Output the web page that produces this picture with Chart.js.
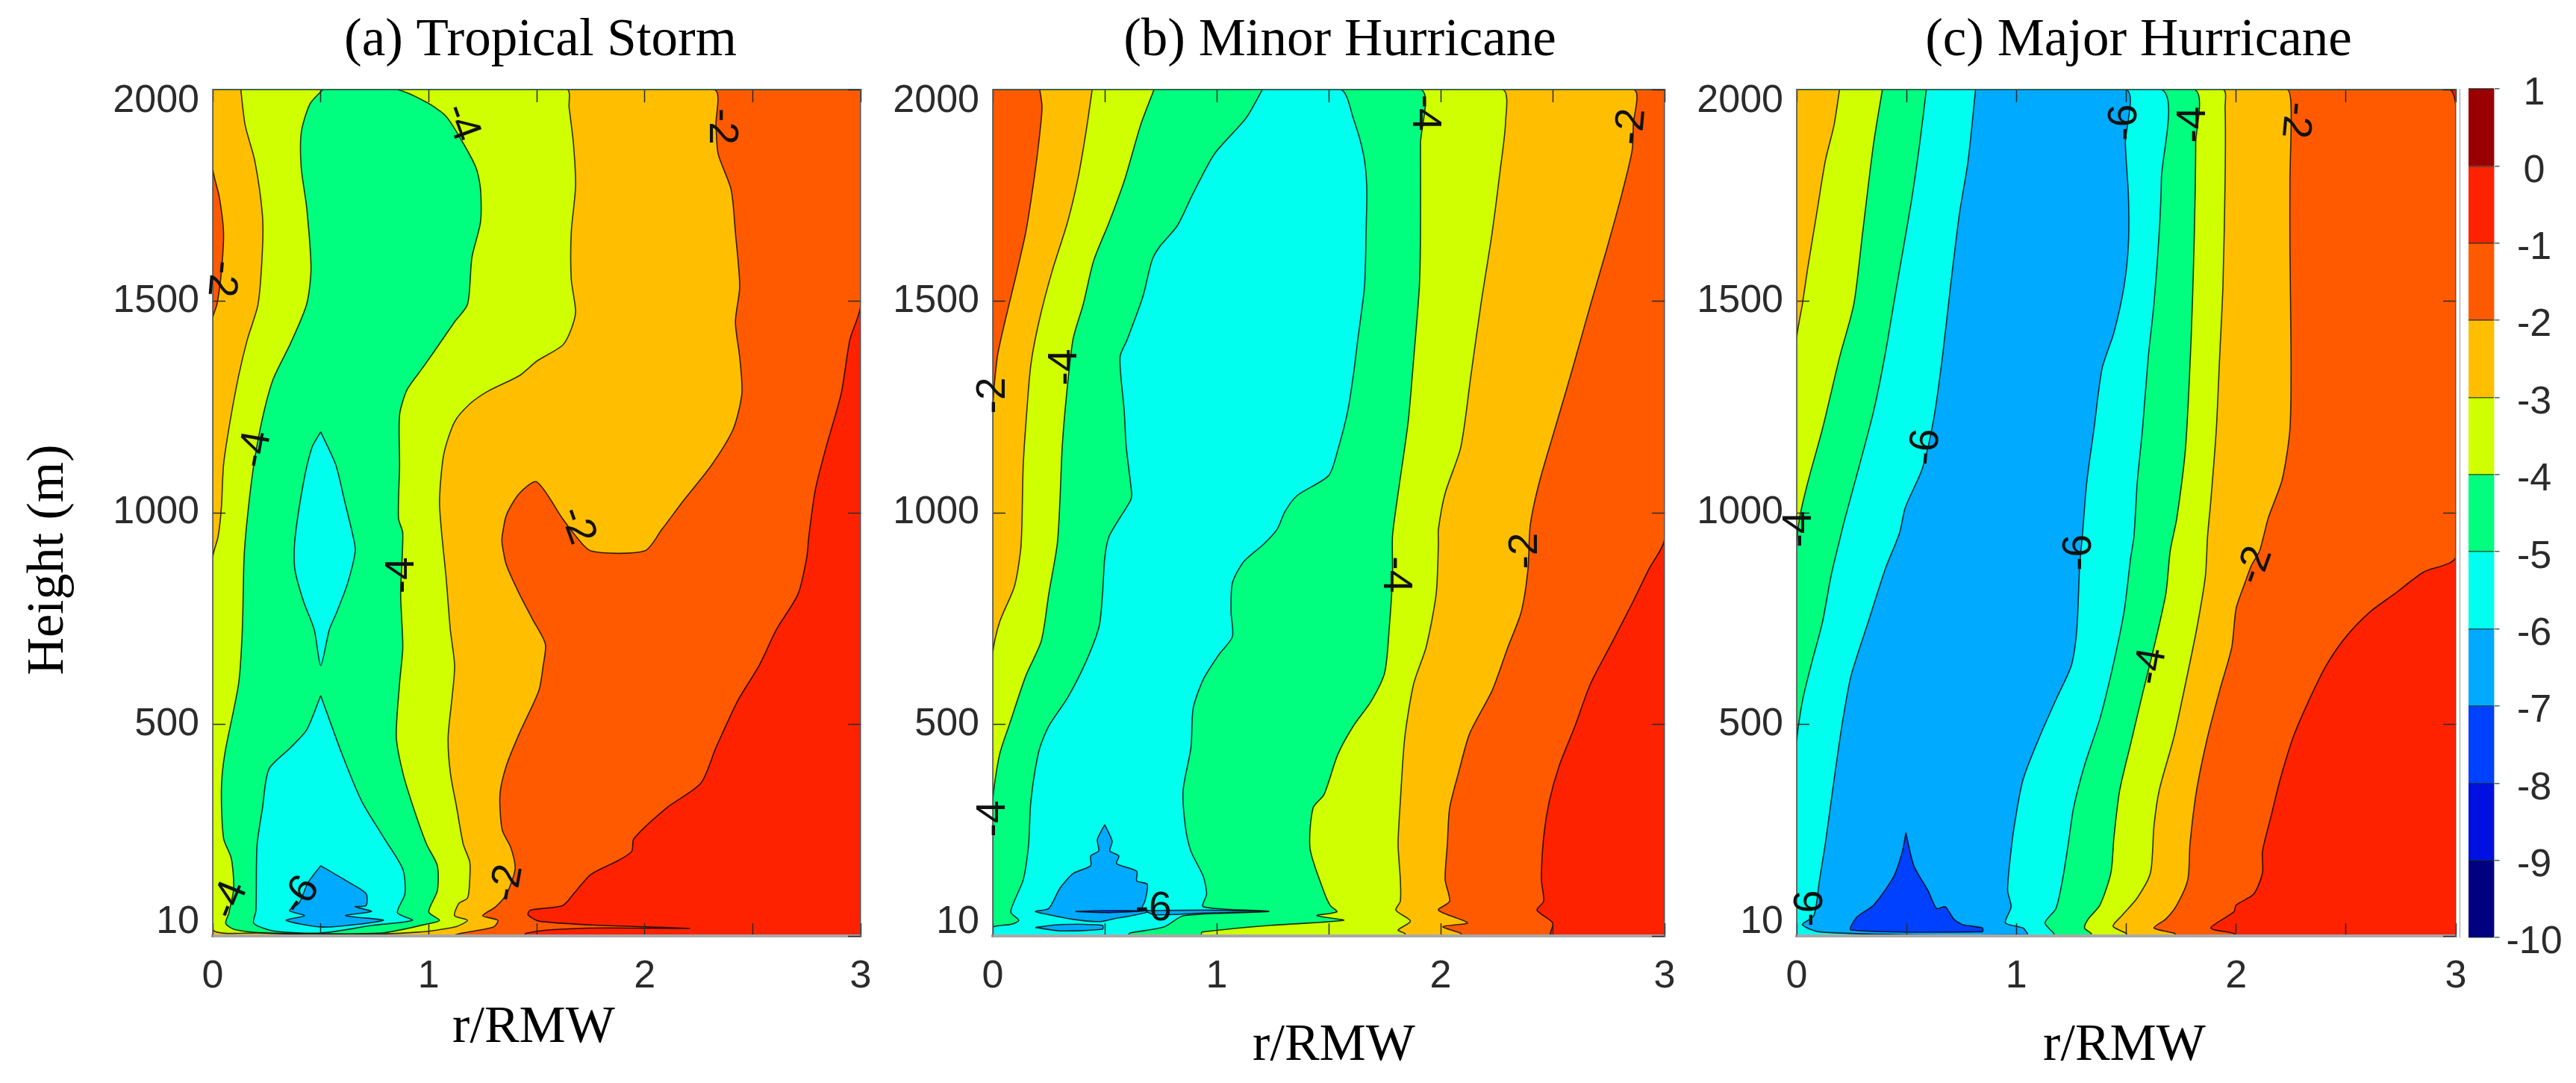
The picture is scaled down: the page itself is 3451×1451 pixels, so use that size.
<!DOCTYPE html>
<html>
<head>
<meta charset="utf-8">
<title>Contours</title>
<script src="https://cdn.jsdelivr.net/npm/chart.js@4/dist/chart.umd.js"></script>
<style>
  html, body { margin: 0; padding: 0; background: #fff; }
  body { position: relative; width: 3451px; height: 1451px; overflow: hidden; }
  canvas { position: absolute; top: 0; }
</style>
</head>
<body>
<canvas id="panel-a" width="1180" height="1451" style="left:0"></canvas>
<canvas id="panel-b" width="1087" height="1451" style="left:1170px"></canvas>
<canvas id="panel-c" width="1067" height="1451" style="left:2250px"></canvas>
<canvas id="colorbar" width="156" height="1451" style="left:3295px"></canvas>
<script>
// colour bar
const barEdges = [1, 0, -1, -2, -3, -4, -5, -6, -7, -8, -9, -10];
const barColors = ['#990000', '#ff2200', '#ff5a00', '#ffbf00', '#cfff00', '#00ff7f', '#00ffee', '#00aaff', '#0040ff', '#0010e0', '#000080'];

// axes
const radiusMax = 3;
const heightMax = 2000;
const heightTickPlaces = [1972, 1500, 1000, 500, 33];
const heightTickLabels = ['2000', '1500', '1000', '500', '10'];

// contours as [r/RMW, height]: each one closes the area below that value
const stormBelow1 = [[0,2000],[3,2000],[3,1490],[2.95,1409],[2.91,1282],[2.84,1155],[2.79,1054],[2.76,944],[2.75,893],[2.71,808],[2.61,724],[2.53,639],[2.43,555],[2.33,445],[2.26,361],[2.1,302],[1.95,230],[1.94,200],[1.88,179],[1.75,145],[1.67,99],[1.62,72],[1.47,61],[1.46,50],[1.51,35],[1.8,25],[2.21,18],[1.8,19],[1.55,14],[1.45,6],[1.44,0],[0,0]];
const stormBelow2 = [[0,2000],[2.32,2000],[2.33,1916],[2.34,1848],[2.4,1764],[2.42,1662],[2.44,1535],[2.42,1451],[2.44,1367],[2.45,1282],[2.41,1198],[2.31,1113],[2.18,1029],[2.08,961],[2,910],[1.75,910],[1.67,952],[1.62,986],[1.5,1073],[1.42,1046],[1.36,995],[1.34,944],[1.34,926],[1.36,876],[1.42,808],[1.48,749],[1.54,690],[1.53,639],[1.51,580],[1.42,479],[1.36,403],[1.33,335],[1.34,251],[1.38,209],[1.4,158],[1.36,99],[1.31,69],[1.25,48],[1.32,37],[1.3,21],[1.155,7],[1.1,0],[0,0],[0,1459],[0.02,1493],[0.04,1569],[0.05,1662],[0.03,1747],[0,1814]];
const stormBelow3 = [[0.13,2000],[1.64,2000],[1.65,1958],[1.67,1873],[1.68,1772],[1.66,1662],[1.66,1552],[1.68,1476],[1.66,1434],[1.62,1396],[1.5,1358],[1.42,1324],[1.27,1286],[1.19,1257],[1.12,1215],[1.07,1139],[1.05,1029],[1.06,952],[1.08,850],[1.1,724],[1.12,639],[1.11,572],[1.09,470],[1.1,386],[1.13,302],[1.16,217],[1.19,175],[1.19,133],[1.18,90],[1.14,77],[1.12,48],[1.18,37],[1.12,21],[0.95,9],[0.6,3],[0.21,7],[0,16],[0,893],[0.025,944],[0.04,1012],[0.05,1113],[0.08,1215],[0.12,1324],[0.16,1409],[0.21,1493],[0.23,1620],[0.23,1704],[0.195,1831],[0.15,1916]];
const stormBelow4 = [[0.51,2000],[0.85,2000],[0.99,1970],[1.08,1937],[1.16,1873],[1.22,1814],[1.24,1764],[1.24,1687],[1.2,1603],[1.18,1493],[1.12,1451],[1.04,1392],[0.97,1341],[0.9,1291],[0.865,1231],[0.865,1113],[0.86,987],[0.88,952],[0.87,808],[0.88,682],[0.865,597],[0.85,470],[0.88,386],[0.93,302],[0.99,217],[1.04,166],[1.04,107],[1,57],[1.05,37],[0.99,28],[0.78,7],[0.21,8],[0.097,16],[0.06,30],[0.075,55],[0.097,113],[0.086,183],[0.05,231],[0.04,344],[0.055,428],[0.12,597],[0.137,724],[0.145,893],[0.16,987],[0.19,1113],[0.23,1223],[0.28,1316],[0.36,1400],[0.435,1493],[0.455,1578],[0.435,1721],[0.41,1814],[0.41,1899],[0.45,1966]];
const stormBelow5Upper = [[0.5,1191],[0.57,1113],[0.61,1029],[0.65,944],[0.66,910],[0.625,834],[0.575,766],[0.54,724],[0.5,639],[0.47,724],[0.42,791],[0.38,867],[0.38,935],[0.42,1071],[0.46,1155]];
const stormBelow5Lower = [[0.5,568],[0.6,428],[0.69,318],[0.79,234],[0.88,158],[0.89,100],[0.855,55],[0.925,37],[0.74,25],[0.5,7],[0.28,12],[0.19,30],[0.2,60],[0.205,213],[0.23,301],[0.26,394],[0.36,445],[0.435,487]];
const stormBelow6 = [[0.5,166],[0.63,127],[0.71,100],[0.71,72],[0.66,69],[0.735,58],[0.615,48],[0.79,37],[0.51,21],[0.34,37],[0.425,48],[0.355,60],[0.4,78],[0.44,125]];

const minorBelow1 = [[0,2000],[3,2000],[3,939],[2.93,867],[2.86,791],[2.77,698],[2.67,597],[2.6,496],[2.53,403],[2.485,318],[2.46,234],[2.45,133],[2.46,82],[2.43,61],[2.5,31],[2.49,6],[2.49,0],[0,0]];
const minorBelow2 = [[0.21,2000],[2.86,2000],[2.86,1916],[2.855,1856],[2.81,1755],[2.74,1620],[2.67,1493],[2.58,1324],[2.51,1198],[2.44,1071],[2.4,970],[2.39,867],[2.36,766],[2.3,682],[2.23,580],[2.13,479],[2.08,386],[2.04,302],[2.03,217],[2.02,133],[2.04,82],[1.99,61],[2.12,31],[2.01,22],[2.09,6],[2.09,0],[0,0],[0,1240],[0.02,1367],[0.054,1451],[0.1,1552],[0.147,1662],[0.18,1772],[0.205,1873],[0.22,1958]];
const minorBelow3 = [[0.444,2000],[2.275,2000],[2.29,1924],[2.265,1806],[2.23,1662],[2.18,1493],[2.135,1324],[2.09,1155],[2.02,1046],[1.99,961],[1.99,926],[1.98,808],[1.935,682],[1.88,597],[1.84,470],[1.82,318],[1.81,217],[1.82,133],[1.82,82],[1.8,61],[1.865,35],[1.81,14],[1.84,6],[1.84,0],[0,0],[0,665],[0.03,741],[0.096,825],[0.124,910],[0.13,970],[0.136,1113],[0.152,1240],[0.17,1350],[0.206,1451],[0.264,1569],[0.334,1687],[0.38,1789],[0.416,1899]];
const minorBelow4 = [[0.72,2000],[1.91,2000],[1.91,1873],[1.91,1662],[1.905,1535],[1.88,1367],[1.855,1215],[1.81,1046],[1.785,944],[1.785,850],[1.77,724],[1.75,622],[1.69,555],[1.61,496],[1.54,428],[1.48,335],[1.43,302],[1.417,206],[1.477,107],[1.507,72],[1.537,57],[1.447,48],[1.567,37],[1.24,25],[0.933,9],[0.93,0],[0,0],[0,318],[0.03,428],[0.077,504],[0.147,614],[0.217,698],[0.25,808],[0.288,926],[0.3,1029],[0.31,1155],[0.33,1282],[0.358,1409],[0.404,1493],[0.45,1595],[0.52,1687],[0.59,1789],[0.66,1916]];
const minorBelow5 = [[1.204,2000],[1.555,2000],[1.61,1932],[1.655,1848],[1.67,1772],[1.667,1662],[1.66,1535],[1.63,1409],[1.61,1324],[1.585,1240],[1.54,1147],[1.5,1088],[1.36,1041],[1.305,1003],[1.27,961],[1.21,926],[1.12,884],[1.07,834],[1.064,766],[1.07,707],[1.01,665],[0.94,606],[0.895,538],[0.885,445],[0.85,344],[0.86,259],[0.885,200],[0.94,141],[0.955,99],[0.94,69],[1.233,58],[0.853,48],[0.763,21],[0.613,7],[0.6,0],[0,0],[0,21],[0.086,28],[0.116,37],[0.08,57],[0.136,133],[0.16,217],[0.17,318],[0.206,437],[0.25,496],[0.334,563],[0.416,648],[0.475,732],[0.49,808],[0.5,893],[0.52,945],[0.615,1029],[0.62,1046],[0.596,1155],[0.587,1240],[0.568,1367],[0.6,1409],[0.67,1510],[0.71,1595],[0.744,1628],[0.825,1679],[0.895,1755],[0.99,1848],[1.13,1932]];
const minorBelow6 = [[0.5,263],[0.533,224],[0.523,201],[0.563,189],[0.553,171],[0.643,153],[0.643,130],[0.69,122],[0.68,83],[0.667,65],[0.7,58],[0.6,46],[0.553,42],[0.48,34],[0.36,39],[0.243,51],[0.19,58],[0.25,65],[0.3,113],[0.36,148],[0.437,166],[0.437,189],[0.473,201],[0.467,228]];
const minorBelow6Sliver = [[0.68,60],[0.95,61],[1.233,58],[0.95,54],[0.72,50]];
const minorBelow6Lower = [[0.19,20],[0.3,27],[0.49,25],[0.49,16],[0.3,12]];
const minorBelow7 = [[0.37,58],[0.5,60],[0.68,59],[0.5,55]];

const majorBelow1 = [[0,2000],[2.97,2000],[3,1958],[3,897],[2.85,859],[2.72,808],[2.61,766],[2.5,707],[2.41,639],[2.33,555],[2.26,470],[2.2,369],[2.16,285],[2.12,200],[2.12,149],[2.08,99],[2,73],[1.99,57],[1.885,19],[1.99,6],[1.99,0],[0,0]];
const majorBelow2 = [[0,2000],[2.23,2000],[2.25,1958],[2.245,1789],[2.245,1620],[2.25,1367],[2.245,1198],[2.21,1079],[2.146,987],[2.107,910],[2.07,876],[2.04,834],[2,774],[1.98,682],[1.925,580],[1.87,470],[1.82,344],[1.79,217],[1.78,133],[1.73,73],[1.68,40],[1.626,19],[1.72,6],[1.72,0],[0,0]];
const majorBelow3 = [[0.195,2000],[1.94,2000],[1.95,1958],[1.95,1789],[1.94,1535],[1.925,1367],[1.91,1198],[1.885,1029],[1.87,944],[1.86,850],[1.82,724],[1.77,597],[1.717,470],[1.65,344],[1.626,259],[1.61,149],[1.55,90],[1.48,48],[1.44,23],[1.5,6],[1.5,0],[0,0],[0,1409],[0.026,1493],[0.05,1578],[0.09,1704],[0.13,1831],[0.17,1916]];
const majorBelow4 = [[0.39,2000],[1.808,2000],[1.816,1873],[1.808,1620],[1.795,1409],[1.77,1155],[1.73,987],[1.7,910],[1.68,808],[1.626,682],[1.574,572],[1.52,454],[1.47,344],[1.444,234],[1.43,149],[1.38,73],[1.327,40],[1.31,19],[1.34,6],[1.34,0],[0,0],[0,919],[0.013,987],[0.05,1071],[0.117,1198],[0.195,1367],[0.26,1493],[0.3,1662],[0.35,1873]];
const majorBelow5 = [[0.59,2000],[1.66,2000],[1.66,1789],[1.65,1662],[1.626,1493],[1.6,1367],[1.574,1198],[1.55,1071],[1.535,944],[1.52,893],[1.49,766],[1.44,639],[1.38,513],[1.31,403],[1.26,302],[1.236,217],[1.21,133],[1.18,65],[1.13,31],[1.17,6],[1.17,0],[0,0],[0,454],[0.026,555],[0.065,639],[0.117,741],[0.156,850],[0.195,935],[0.22,987],[0.286,1113],[0.35,1240],[0.4,1367],[0.455,1535],[0.52,1730],[0.56,1873]];
const majorBelow6 = [[0.814,2000],[1.5,2000],[1.496,1873],[1.51,1747],[1.51,1637],[1.49,1535],[1.444,1426],[1.39,1341],[1.353,1198],[1.32,1071],[1.3,944],[1.288,876],[1.275,724],[1.25,639],[1.184,563],[1.105,470],[1.03,369],[0.99,259],[0.97,175],[0.96,107],[0.976,69],[0.95,31],[1.03,19],[1.05,6],[1.05,3],[0.5,3],[0.1,10],[0.026,27],[0.078,48],[0.104,133],[0.13,217],[0.17,369],[0.208,504],[0.247,614],[0.325,741],[0.403,867],[0.468,952],[0.494,1012],[0.572,1105],[0.624,1223],[0.663,1367],[0.7,1535],[0.74,1704],[0.78,1831]];
const majorBelow7 = [[0.497,244],[0.533,166],[0.598,107],[0.637,65],[0.676,69],[0.715,40],[0.754,27],[0.845,19],[0.845,10],[0.247,14],[0.273,44],[0.35,73],[0.442,141],[0.481,200]];

const wholeBox = [[0,0],[3,0],[3,2000],[0,2000]];

// contour labels: text, r/RMW, height, rotation in degrees
const stormLabels = [['-2',2.355,1913,90],['-2',0.04,1553,95],['-4',1.15,1922,70],['-4',0.2,1150,-80],['-4',0.876,852,-90],['-2',1.686,970,70],['-2',1.366,125,-80],['-4',0.08,85,-68],['-6',0.407,95,-55]];
const minorLabels = [['-2',2.853,1912,-85],['-4',1.927,1945,90],['-4',0.323,1344,-90],['-2',0.003,1277,-90],['-2',2.38,910,-90],['-4',1.797,854,90],['-4',0.003,277,-90],['-6',0.717,63,0]];
const majorLabels = [['-6',1.495,1922,-90],['-4',1.807,1917,-90],['-2',2.27,1928,95],['-6',0.588,1155,-85],['-4',0.014,961,-90],['-6',1.287,906,-90],['-2',2.086,875,-70],['-4',1.613,637,-80],['-6',0.065,65,-90]];

const serif = 'Liberation Serif';
const sans = 'Liberation Sans';
const tickInk = '#2b2b2b';

// bands are painted deepest last, one on top of the other
const bandsOf = (list) => list.map(([polygon, colorIndex]) => ({ polygon, colorIndex }));

const panels = [
    {
        id: 'panel-a', left: 0, leftAxis: 285,
        title: '(a) Tropical Storm', titleX: 724, axisName: 'r/RMW', axisNameX: 715, axisNameY: 1378, labels: stormLabels,
        bands: bandsOf([[wholeBox,1],[stormBelow1,2],[stormBelow2,3],[stormBelow3,4],[stormBelow4,5],[stormBelow5Upper,6],[stormBelow5Lower,6],[stormBelow6,7]])
    },
    {
        id: 'panel-b', left: 1170, leftAxis: 160,
        title: '(b) Minor Hurricane', titleX: 1795, axisName: 'r/RMW', axisNameX: 1787, axisNameY: 1402, labels: minorLabels,
        bands: bandsOf([[wholeBox,1],[minorBelow1,2],[minorBelow2,3],[minorBelow3,4],[minorBelow4,5],[minorBelow5,6],[minorBelow6,7],[minorBelow6Sliver,7],[minorBelow6Lower,7],[minorBelow7,8]])
    },
    {
        id: 'panel-c', left: 2250, leftAxis: 157,
        title: '(c) Major Hurricane', titleX: 2865, axisName: 'r/RMW', axisNameX: 2846, axisNameY: 1402, labels: majorLabels,
        bands: bandsOf([[wholeBox,1],[majorBelow1,2],[majorBelow2,3],[majorBelow3,4],[majorBelow4,5],[majorBelow5,6],[majorBelow6,7],[majorBelow7,8]])
    }
];

// fills the same curved path the line element strokes
const fillBands = {
    id: 'fillBands',
    beforeDatasetDraw(chart, args) {
        const ctx = chart.ctx;
        const { left, top, width, height } = chart.chartArea;
        const line = args.meta.dataset;
        line.updateControlPoints(chart.chartArea);
        ctx.save();
        ctx.beginPath();
        ctx.rect(left, top, width, height);
        ctx.clip();
        ctx.beginPath();
        line.path(ctx);
        ctx.closePath();
        ctx.fillStyle = chart.data.datasets[args.index].backgroundColor;
        ctx.fill();
        ctx.restore();
    }
};

const drawText = (ctx, text, x, y, font, color, angle) => {
    ctx.save();
    ctx.translate(x, y);
    ctx.rotate((angle || 0) * Math.PI / 180);
    ctx.font = font;
    ctx.fillStyle = color;
    ctx.textAlign = 'center';
    ctx.textBaseline = 'middle';
    ctx.fillText(text, 0, 0);
    ctx.restore();
};

const panelText = (panel) => ({
    id: 'panelText',
    afterDraw(chart) {
        const ctx = chart.ctx;
        const { x, y } = chart.scales;
        panel.labels.forEach(([text, r, h, angle]) => {
            drawText(ctx, text, x.getPixelForValue(r), y.getPixelForValue(h), `55px "${sans}"`, '#111', angle);
        });
        drawText(ctx, panel.title, panel.titleX - panel.left, 55, `71px "${serif}"`, '#000');
        drawText(ctx, panel.axisName, panel.axisNameX - panel.left, panel.axisNameY, `70px "${serif}"`, '#000');
        if (panel.left === 0) drawText(ctx, 'Height (m)', 66, 750, `70px "${serif}"`, '#000', -90);
    }
});

const insideTicks = { drawOnChartArea: false, drawTicks: true, tickLength: -17, tickColor: tickInk, tickWidth: 1.5, z: 1 };

panels.forEach((panel) => {
    new Chart(document.getElementById(panel.id), {
        type: 'scatter',
        data: {
            datasets: panel.bands.map(({ polygon, colorIndex }) => ({
                data: polygon.concat([polygon[0]]).map(([x, y]) => ({ x, y })),
                showLine: true,
                fill: false,
                pointRadius: 0,
                tension: 0.25,
                backgroundColor: barColors[colorIndex],
                borderColor: 'rgba(0,0,0,0.8)',
                borderWidth: 1.6
            })).reverse()
        },
        plugins: [fillBands, panelText(panel)],
        options: {
            responsive: false,
            animation: false,
            devicePixelRatio: 1,
            layout: { padding: 0 },
            plugins: { legend: { display: false }, tooltip: { enabled: false } },
            scales: {
                x: {
                    type: 'linear', position: 'bottom', min: 0, max: radiusMax,
                    // the label padding would otherwise eat the right margin
                    afterFit: (s) => { s.height = 197; s.paddingLeft = 0; s.paddingRight = 0; },
                    border: { color: '#a9a9a9', width: 4, z: 1 },
                    grid: insideTicks,
                    ticks: {
                        stepSize: 0.5, color: tickInk, padding: 40, maxRotation: 0, autoSkip: false,
                        font: { family: sans, size: 52 },
                        callback: (v) => (Number.isInteger(v) ? String(v) : '')
                    }
                },
                xTop: {
                    type: 'linear', axis: 'x', position: 'top', min: 0, max: radiusMax,
                    afterFit: (s) => { s.height = 120; },
                    border: { color: '#3c6a5c', width: 1.5, z: 1 },
                    grid: insideTicks,
                    ticks: { stepSize: 0.5, display: false }
                },
                y: {
                    type: 'linear', position: 'left', min: 0, max: heightMax,
                    afterFit: (s) => { s.width = panel.leftAxis; },
                    afterBuildTicks: (s) => { s.ticks = heightTickPlaces.map((value) => ({ value })); },
                    border: { color: '#777', width: 1.5, z: 1 },
                    grid: {
                        ...insideTicks,
                        tickColor: (c) => (c.tick && (c.tick.value === 1972 || c.tick.value === 33) ? 'transparent' : tickInk)
                    },
                    ticks: {
                        color: tickInk, padding: 35, autoSkip: false,
                        font: { family: sans, size: 52 },
                        callback: (v) => heightTickLabels[heightTickPlaces.indexOf(v)]
                    }
                },
                yRight: {
                    type: 'linear', axis: 'y', position: 'right', min: 0, max: heightMax,
                    // room for the half of the "3" that hangs over the edge
                    afterFit: (s) => { s.width = 27; },
                    border: { color: '#555', width: 1.5, z: 1 },
                    grid: insideTicks,
                    ticks: { stepSize: 500, display: false }
                }
            }
        }
    });
});

new Chart(document.getElementById('colorbar'), {
    type: 'bar',
    data: {
        labels: [''],
        datasets: barColors.map((color, i) => ({
            data: [[barEdges[i + 1], barEdges[i]]],
            backgroundColor: color,
            borderWidth: 0,
            barPercentage: 1,
            categoryPercentage: 1,
            grouped: false
        }))
    },
    options: {
        responsive: false,
        animation: false,
        devicePixelRatio: 1,
        layout: { padding: { left: 12, top: 119, bottom: 195 } },
        plugins: { legend: { display: false }, tooltip: { enabled: false } },
        scales: {
            x: { display: false },
            y: {
                type: 'linear', position: 'right', min: barEdges[barEdges.length - 1], max: barEdges[0],
                afterFit: (s) => { s.width = 109.5; s.paddingTop = 0; s.paddingBottom = 0; },
                border: { color: '#333', width: 1 },
                grid: { drawOnChartArea: true, drawTicks: true, tickLength: 7, color: 'rgba(10,50,50,0.75)', lineWidth: 1.5, z: 1 },
                ticks: {
                    stepSize: 1, color: tickInk, padding: 9, crossAlign: 'center', labelOffset: 7,
                    font: { family: sans, size: 52 },
                    callback: (v) => String(v)
                }
            }
        }
    }
});
</script>
</body>
</html>
